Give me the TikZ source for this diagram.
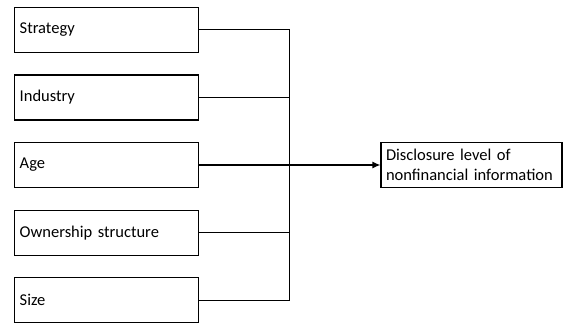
\documentclass[tikz,border=0pt]{standalone}
\usepackage{fontspec}
\setmainfont{Carlito}
\usetikzlibrary{calc}
\usetikzlibrary{arrows.meta}

\begin{document}
\begin{tikzpicture}[x=1pt, y=-1pt]
    \tikzstyle{factor} = [draw, line width=1.2pt, minimum width=184pt, minimum height=45pt, text width=174pt, inner sep=5pt, align=left, font=\fontsize{16.5}{20}\selectfont]
    \tikzstyle{outcome} = [draw, line width=1.2pt, minimum width=181pt, minimum height=45pt, text width=171pt, inner sep=5pt, align=left, font=\fontsize{16.5}{20.5}\selectfont]
    \tikzstyle{link} = [line width=1.2pt]

    \useasboundingbox (0, 0) rectangle (563, 324);

    \node[factor] (strategy) at (106.7, 29.8) {Strategy};
    \node[factor] (industry) at (106.7, 97.5) {Industry};
    \node[factor] (age) at (106.7, 165) {Age};
    \node[factor] (ownership) at (106.7, 232.8) {Ownership structure};
    \node[factor] (size) at (106.7, 300.3) {Size};

    \node[outcome] (disclosure) at (471.5, 165) {Disclosure level of\\nonfinancial information};

    \coordinate (bus) at (289.3, 0);
    \draw[link] (strategy.east) -- (strategy.east -| bus) -- (size.east -| bus) -- (size.east);
    \draw[link] (industry.east) -- (industry.east -| bus);
    \draw[link] (ownership.east) -- (ownership.east -| bus);
    \draw[link, -{Latex[length=8pt, width=7pt]}] (age.east) -- (disclosure.west);
\end{tikzpicture}
\end{document}
